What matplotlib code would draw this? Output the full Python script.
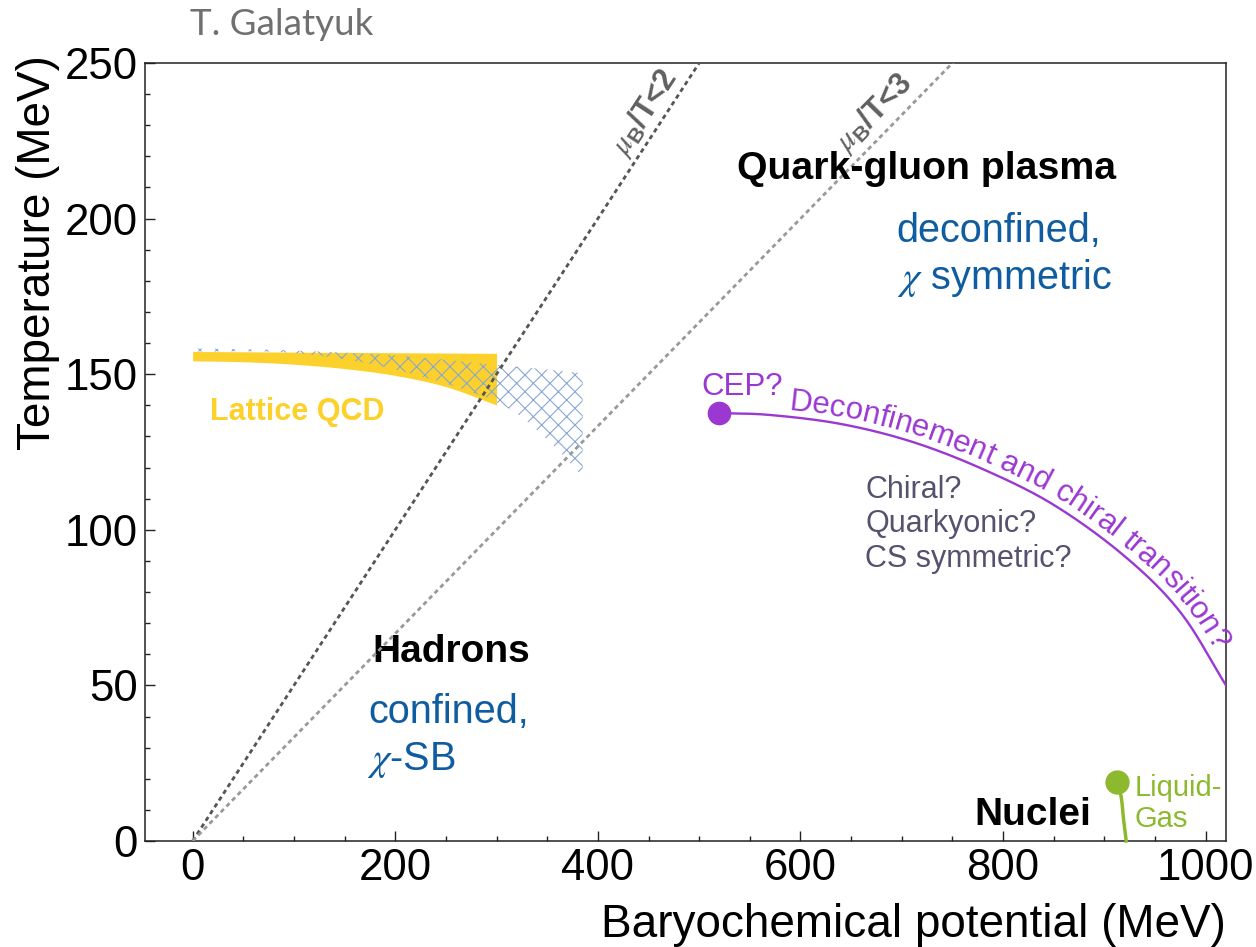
import numpy as np
import matplotlib
matplotlib.use("Agg")
import matplotlib.pyplot as plt
from matplotlib.ticker import MultipleLocator
from matplotlib.font_manager import FontProperties, findfont, get_font
from matplotlib.transforms import IdentityTransform

plt.rcParams["font.family"] = ["Liberation Sans", "DejaVu Sans"]
plt.rcParams["mathtext.fontset"] = "custom"
plt.rcParams["mathtext.rm"] = "Liberation Sans"
plt.rcParams["mathtext.bf"] = "Liberation Sans:bold"
plt.rcParams["mathtext.it"] = "STIXGeneral:italic"
plt.rcParams["hatch.linewidth"] = 0.8

# ---- data -------------------------------------------------------------
# lattice QCD crossover band (MeV)
lat_mu = [0, 50, 100, 150, 200, 250, 300]
lat_T_hi = [157.3, 157.2, 157.1, 157.0, 156.9, 156.8, 156.7]
lat_T_lo = [154.3, 154.0, 153.2, 151.8, 149.6, 146.0, 140.1]

# extrapolated band (hatched)
ext_mu = [0, 100, 200, 300, 350, 385]
ext_T_hi = [158.3, 157.6, 156.0, 153.0, 151.5, 150.3]
ext_T_lo = [157.3, 156.8, 151.5, 141.0, 129.0, 117.0]

# constant mu_B/T lines
muT_ratios = [2, 3]
muT_labels = ["<2", "<3"]

# critical end point and transition line
cep_mu, cep_T = 520, 137.5
trans_mu = [520, 570, 640, 710, 780, 850, 920, 975, 1020]
trans_T = [137.5, 136.9, 134.0, 128.3, 119.5, 108.0, 91.5, 73.5, 50.0]

# nuclear liquid-gas transition
lg_mu = [912.5, 916.5, 919.0, 921.5]
lg_T = [19.0, 14.2, 6.7, 0.0]

x_ticks = [0, 200, 400, 600, 800, 1000]
y_ticks = [0, 50, 100, 150, 200, 250]

# ---- colours ----------------------------------------------------------
YELLOW = "#FDD12B"
HATCH = "#8AA7D2"
PURPLE = "#9B38D2"
BLUE = "#0F5CA0"
GREEN = "#8DB92E"
GREYTXT = "#55526E"


def smooth(x, y, n=30):
    """Catmull-Rom curve through the given points."""
    pts = np.column_stack([x, y]).astype(float)
    P = np.vstack([2 * pts[0] - pts[1], pts, 2 * pts[-1] - pts[-2]])
    out = []
    t = np.linspace(0, 1, n, endpoint=False)[:, None]
    for i in range(1, len(P) - 2):
        p0, p1, p2, p3 = P[i - 1], P[i], P[i + 1], P[i + 2]
        seg = 0.5 * ((2 * p1) + (-p0 + p2) * t
                     + (2 * p0 - 5 * p1 + 4 * p2 - p3) * t ** 2
                     + (-p0 + 3 * p1 - 3 * p2 + p3) * t ** 3)
        out.append(seg)
    out.append(P[-2][None, :])
    res = np.vstack(out)
    return res[:, 0], res[:, 1]


fig = plt.figure(figsize=(12.56, 9.47), dpi=100)
ax = fig.add_axes([0.11545, 0.11193, 0.86067, 0.82154])
ax.set_xlim(-47, 1020)
ax.set_ylim(0, 250)

# lattice band and its extrapolation
mx, hi = smooth(lat_mu, lat_T_hi)
_, lo = smooth(lat_mu, lat_T_lo)
ax.fill_between(mx, lo, hi, color=YELLOW, lw=0, zorder=2)
ex, ehi = smooth(ext_mu, ext_T_hi)
_, elo = smooth(ext_mu, ext_T_lo)
ax.fill_between(ex, elo, ehi, facecolor="none", edgecolor=HATCH, hatch="xx",
                lw=0, zorder=3)

# mu_B/T = const lines
mu_grid = np.array([0.0, 1020.0])
line_cols = ["#555555", "#999999"]
for r, c in zip(muT_ratios, line_cols):
    ax.plot(mu_grid, mu_grid / r, color=c, lw=2.0, dashes=(1.6, 1.3), zorder=4,
            dash_capstyle="butt")

# transition line and CEP
tx, ty = smooth(trans_mu, trans_T)
ax.plot(tx, ty, color=PURPLE, lw=1.7, zorder=5)
ax.plot([cep_mu], [cep_T], "o", color=PURPLE, ms=16, zorder=6)

# liquid-gas
gx, gy = smooth(lg_mu, lg_T)
ax.plot(gx, gy, color=GREEN, lw=2.5, zorder=5, clip_on=False)
ax.plot([lg_mu[0]], [lg_T[0]], "o", color=GREEN, ms=16.5, zorder=6)

# axes styling
for s in ax.spines.values():
    s.set_linewidth(1.1)
    s.set_color("#222222")
ax.set_xticks(x_ticks)
ax.set_yticks(y_ticks)
ax.xaxis.set_minor_locator(MultipleLocator(50))
ax.yaxis.set_minor_locator(MultipleLocator(10))
ax.tick_params(which="both", direction="in", top=False, right=False,
               width=1.0, color="#222222", labelsize=31.5)
ax.tick_params(which="major", length=7)
ax.tick_params(which="minor", length=3.5)
ax.tick_params(axis="x", pad=5)
ax.tick_params(axis="y", pad=5)

fig.text(1226 / 1256, 1 - 937 / 947, "Baryochemical potential (MeV)",
         ha="right", va="baseline", fontsize=33)
fig.text(50 / 1256, 1 - 55 / 947, "Temperature (MeV)", rotation=90,
         rotation_mode="anchor", ha="right", va="baseline", fontsize=33)
fig.text(190 / 1256, 1 - 35 / 947, "T. Galatyuk", fontsize=26.5,
         color="#707070", family=["Lato", "DejaVu Sans"],
         ha="left", va="baseline")

# region labels
ax.text(537.5, 212.6, "Quark-gluon plasma", fontsize=28.3, fontweight="bold",
        ha="left", va="baseline", zorder=7)
ax.text(695, 192.5, "deconfined,", fontsize=28.5, color=BLUE, ha="left", va="baseline")
ax.text(695, 177.5, r"$\chi$ symmetric", fontsize=28.5, color=BLUE, ha="left",
        va="baseline")
ax.text(17.5, 135.3, "Lattice QCD", fontsize=22, fontweight="bold", color=YELLOW,
        ha="left", va="baseline")
ax.text(177, 57.6, "Hadrons", fontsize=28, fontweight="bold", ha="left",
        va="baseline")
ax.text(173.5, 37.8, "confined,", fontsize=28.5, color=BLUE, ha="left", va="baseline")
ax.text(172, 22.8, r"$\chi$-SB", fontsize=28.5, color=BLUE, ha="left", va="baseline")
for txt, T in zip(["Chiral?", "Quarkyonic?", "CS symmetric?"], [110.1, 99.4, 88.1]):
    ax.text(664, T, txt, fontsize=22, color=GREYTXT, ha="left", va="baseline")
ax.text(772, 5.1, "Nuclei", fontsize=28, fontweight="bold", ha="left", va="baseline")
ax.text(930, 14.4, "Liquid-", fontsize=21, color=GREEN, ha="left", va="baseline")
ax.text(930, 4.6, "Gas", fontsize=21, color=GREEN, ha="left", va="baseline")
ax.text(502.5, 143.3, "CEP?", fontsize=22.5, color=PURPLE, ha="left", va="baseline")

# labels along the mu_B/T lines
label_pos = [(446, 234.0), (673, 234.0)]
for r, lab, (lx, ly) in zip(muT_ratios, muT_labels, label_pos):
    p0 = ax.transData.transform((0, 0))
    p1 = ax.transData.transform((500, 500 / r))
    ang = np.degrees(np.arctan2(p1[1] - p0[1], p1[0] - p0[0]))
    ax.text(lx, ly, r"$\mu_{\mathbf{B}}$/T" + lab, fontsize=22, fontweight="bold",
            color="#606060", rotation=ang, rotation_mode="anchor",
            ha="center", va="center")


def text_on_curve(xs, ys, text, start_mu, offset_px, size, color):
    disp = ax.transData.transform(np.column_stack([xs, ys]))
    d = np.gradient(disp, axis=0)
    d /= np.hypot(d[:, 0], d[:, 1])[:, None]
    normal = np.column_stack([-d[:, 1], d[:, 0]])
    path = disp + offset_px * normal
    seg = np.hypot(*np.diff(path, axis=0).T)
    arc = np.concatenate([[0], np.cumsum(seg)])
    x0 = ax.transData.transform((start_mu, 0))[0]
    s0 = np.interp(x0, path[:, 0], arc)
    fp = FontProperties(family="Liberation Sans", size=size)
    font = get_font(findfont(fp))
    font.set_size(size, fig.dpi)
    pos = s0
    for ch in text:
        adv = font.load_char(ord(ch)).linearHoriAdvance / 65536.0
        sc = pos + adv / 2
        px = np.interp(sc, arc, path[:, 0])
        py = np.interp(sc, arc, path[:, 1])
        dx = np.interp(sc, arc, d[:, 0])
        dy = np.interp(sc, arc, d[:, 1])
        ang = np.degrees(np.arctan2(dy, dx))
        fig.text(px, py, ch, transform=IdentityTransform(), fontsize=size,
                 color=color, rotation=ang, rotation_mode="anchor",
                 ha="center", va="baseline", fontproperties=fp)
        pos += adv


text_on_curve(tx, ty, "Deconfinement and chiral transition?", 588, 7, 22.5, PURPLE)

fig.savefig("out.png", dpi=100)
